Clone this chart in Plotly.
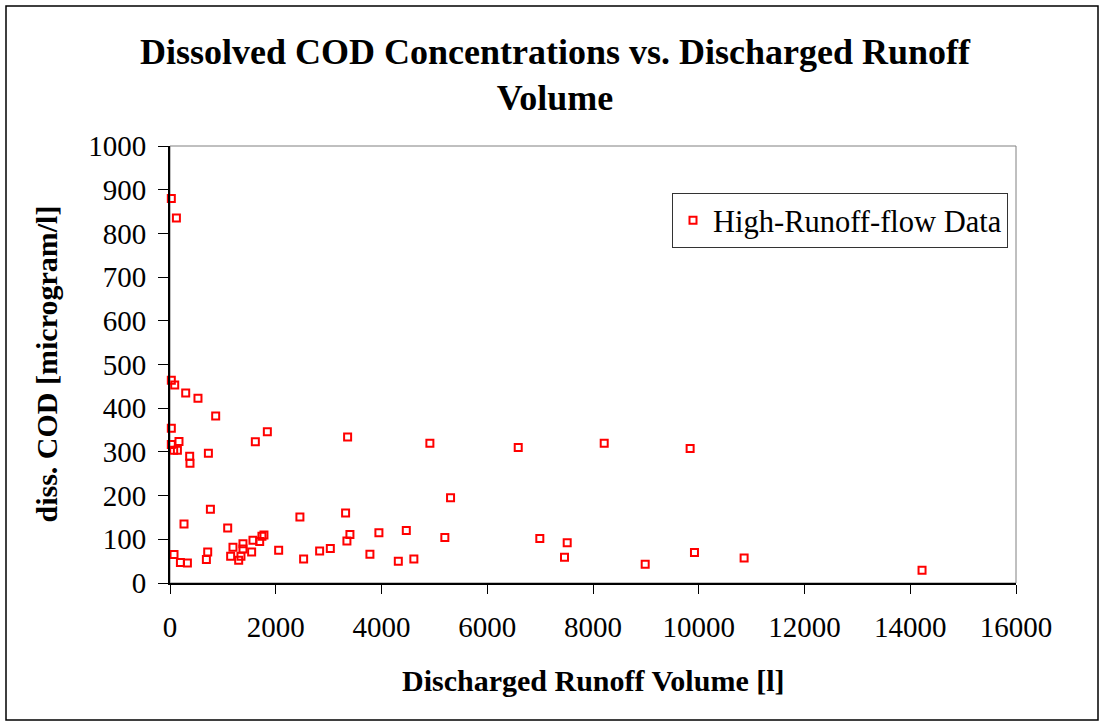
import plotly.graph_objects as go

# Discharged runoff volume [l]
volume = [25, 121, 25, 89, 297, 529, 864,
          25, 25, 170, 70, 140, 372, 378, 726, 1614, 1841,
          3359, 4915, 6586, 8212, 9837,
          5306, 3321, 2457, 265, 764, 1091,
          76, 197, 329, 713, 688, 1191, 1147, 1299, 1380, 1380, 1342, 1544,
          1569, 1696, 1739, 1777, 2055, 2527,
          2830, 3032, 3403, 3346, 3781, 3951, 4318, 4469, 4612, 5198,
          6994, 7512, 7461, 8987,
          9919, 10858, 14223]
# dissolved COD [microgram/l]
cod = [880, 835, 464, 453, 435, 423, 382,
       354, 317, 324, 304, 304, 290, 274, 297, 323, 346,
       334, 320, 310, 320, 308,
       195, 160, 151, 135, 169, 126,
       65, 47, 46, 71, 54, 82, 61, 52, 90, 78, 61, 71,
       98, 95, 107, 110, 75, 55,
       73, 79, 111, 96, 66, 115, 50, 120, 55, 104,
       102, 92, 59, 43,
       70, 57, 29]

x_ticks = [0, 2000, 4000, 6000, 8000, 10000, 12000, 14000, 16000]
y_ticks = [0, 100, 200, 300, 400, 500, 600, 700, 800, 900, 1000]

FONT = "Liberation Serif, Times New Roman, serif"
W, H = 1104, 726
L, R, T, B = 170, 1016, 146, 583

def px(xp):
    return (xp - L) / (R - L)

def py(yp):
    return (B - yp) / (B - T)

fig = go.Figure()
fig.add_trace(go.Scatter(
    x=volume, y=cod, mode="markers", name="High-Runoff-flow Data",
    marker=dict(symbol="square-open", size=7, color="#FF0000",
                line=dict(width=2, color="#FF0000")),
    cliponaxis=False,
))

fig.update_layout(
    width=W, height=H,
    margin=dict(l=L, r=W - R, t=T, b=H - B),
    paper_bgcolor="white", plot_bgcolor="white",
    font=dict(family=FONT, color="black", size=29),
    title=dict(
        text="<b>Dissolved COD Concentrations vs. Discharged Runoff<br>Volume</b>",
        x=555 / W, xref="container", xanchor="center",
        y=1 - 63.5 / H, yref="container", yanchor="middle",
        font=dict(family=FONT, size=36, color="black"),
    ),
    showlegend=True,
    legend=dict(
        x=px(672), y=py(193), xanchor="left", yanchor="top",
        bgcolor="white", bordercolor="#333333", borderwidth=1,
        font=dict(family=FONT, size=30.5, color="black"),
        itemwidth=30, tracegroupgap=0,
    ),
    xaxis=dict(
        range=[0, 16000], tickvals=x_ticks, ticktext=[str(v) for v in x_ticks],
        showgrid=False, zeroline=False, showline=True, linecolor="black", linewidth=2,
        ticks="outside", ticklen=9, tickcolor="black", tickwidth=1,
        ticklabelstandoff=8,
        tickfont=dict(family=FONT, size=29, color="black"),
    ),
    yaxis=dict(
        range=[0, 1000], tickvals=y_ticks, ticktext=[str(v) for v in y_ticks],
        showgrid=False, zeroline=False, showline=True, linecolor="black", linewidth=2,
        ticks="outside", ticklen=10, tickcolor="black", tickwidth=1,
        ticklabelstandoff=6,
        tickfont=dict(family=FONT, size=29, color="black"),
    ),
    shapes=[
        dict(type="rect", xref="paper", yref="paper", x0=0, x1=1, y0=0, y1=1,
             line=dict(color="#808080", width=1), layer="below"),
        dict(type="rect", xref="paper", yref="paper",
             x0=px(6), x1=px(1098), y0=py(720), y1=py(6),
             line=dict(color="black", width=1.5), layer="below"),
    ],
    annotations=[
        dict(text="<b>Discharged Runoff Volume [l]</b>", xref="paper", yref="paper",
             x=0.5, y=py(680), xanchor="center", yanchor="middle", showarrow=False,
             font=dict(family=FONT, size=30, color="black")),
        dict(text="<b>diss. COD [microgram/l]</b>", xref="paper", yref="paper",
             x=px(46), y=0.5, xanchor="center", yanchor="middle", showarrow=False,
             textangle=-90, font=dict(family=FONT, size=30, color="black")),
    ],
)

fig.write_html("out.html", config={"displayModeBar": False},
               post_script="document.body.style.margin='0';")
